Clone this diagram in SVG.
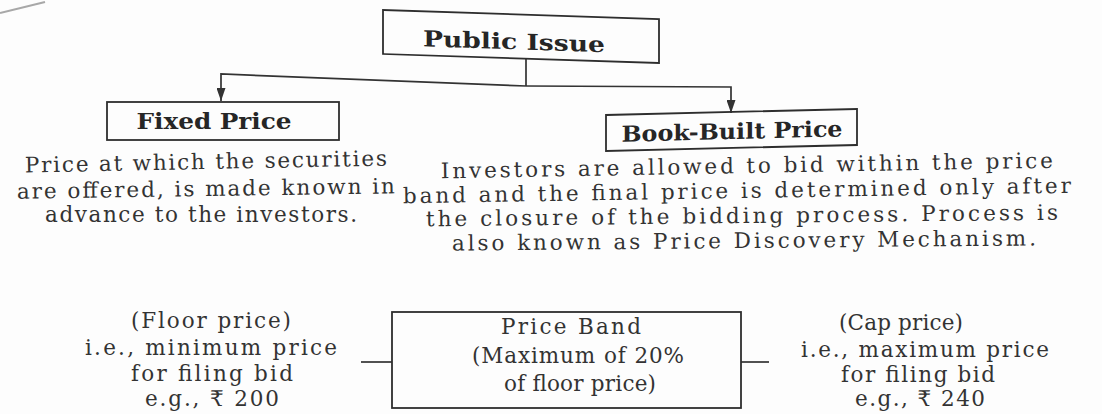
<svg xmlns="http://www.w3.org/2000/svg" width="1102" height="414" viewBox="0 0 1102 414">
<style>
.box{fill:none;stroke:#2e2e2e;stroke-width:1.8}
.ttl{font-family:"DejaVu Serif","Liberation Serif",serif;font-weight:bold;font-size:22px;fill:#262626;text-anchor:middle}
.txt{font-family:"DejaVu Serif","Liberation Serif",serif;font-size:21.5px;fill:#333;text-anchor:middle}
.con{fill:none;stroke:#333;stroke-width:1.7}
</style>
<defs>
<marker id="ah" viewBox="0 0 13 9" refX="13" refY="4.5" markerWidth="13" markerHeight="9" markerUnits="userSpaceOnUse" orient="auto">
<path d="M0,0 L13,4.5 L0,9 z" fill="#333"/>
</marker>
</defs>
<rect width="1102" height="414" fill="#fdfdfd"/>
<path d="M0,13 L45,2" stroke="#a8a8a8" stroke-width="2" fill="none"/>

<g id="connectors">
<path class="con" d="M526,59 L526,86"/>
<path class="con" d="M526,86 L221,74 L221,101" marker-end="url(#ah)"/>
<path class="con" d="M526,86 L731,87 L731,113" marker-end="url(#ah)"/>
<path class="con" d="M361,362 L392,362"/>
<path class="con" d="M741,362 L769,362"/>
</g>

<g id="public-issue" transform="translate(383,10) skewY(1.87)">
<rect class="box" x="0" y="0" width="276" height="44"/>
<text class="ttl" x="131" y="35" font-size="24" textLength="182" lengthAdjust="spacingAndGlyphs">Public Issue</text>
</g>

<g id="fixed-price">
<rect class="box" x="107" y="102" width="232" height="38"/>
<text class="ttl" x="214" y="129" textLength="155" lengthAdjust="spacingAndGlyphs">Fixed Price</text>
<text class="txt" x="206" y="169" textLength="362" transform="rotate(-1.1 206 169)">Price at which the securities</text>
<text class="txt" x="206" y="196" textLength="378" transform="rotate(-0.8 206 196)">are offered, is made known in</text>
<text class="txt" x="201" y="222" textLength="312">advance to the investors.</text>
</g>

<g id="book-built-price" >
<g transform="translate(606,115) skewY(-1.37)">
<rect class="box" x="0" y="0" width="251" height="36"/>
<text class="ttl" x="126" y="27" textLength="221" lengthAdjust="spacingAndGlyphs">Book-Built Price</text>
</g>
<text class="txt" x="747" y="173" textLength="612" transform="rotate(-1 747 173)">Investors are allowed to bid within the price</text>
<text class="txt" x="737" y="198" textLength="668" transform="rotate(-0.9 737 198)">band and the final price is determined only after</text>
<text class="txt" x="742" y="223" textLength="632" transform="rotate(-0.6 742 223)">the closure of the bidding process. Process is</text>
<text class="txt" x="744" y="248" textLength="584" transform="rotate(-0.5 744 248)">also known as Price Discovery Mechanism.</text>
</g>

<g id="price-band">
<rect class="box" x="392" y="312" width="349" height="96"/>
<text class="txt" x="571" y="334" textLength="140">Price Band</text>
<text class="txt" x="578" y="363" textLength="212">(Maximum of 20%</text>
<text class="txt" x="580" y="391" textLength="152">of floor price)</text>
</g>

<g id="floor-price">
<text class="txt" x="211" y="328" textLength="160">(Floor price)</text>
<text class="txt" x="211" y="355" textLength="252">i.e., minimum price</text>
<text class="txt" x="212" y="381" textLength="162">for filing bid</text>
<text class="txt" x="212" y="406" textLength="134">e.g., ₹ 200</text>
</g>

<g id="cap-price">
<text class="txt" x="901" y="330" textLength="124">(Cap price)</text>
<text class="txt" x="925" y="357" textLength="248">i.e., maximum price</text>
<text class="txt" x="918" y="382" textLength="154">for filing bid</text>
<text class="txt" x="920" y="406" textLength="130">e.g., ₹ 240</text>
</g>
</svg>
